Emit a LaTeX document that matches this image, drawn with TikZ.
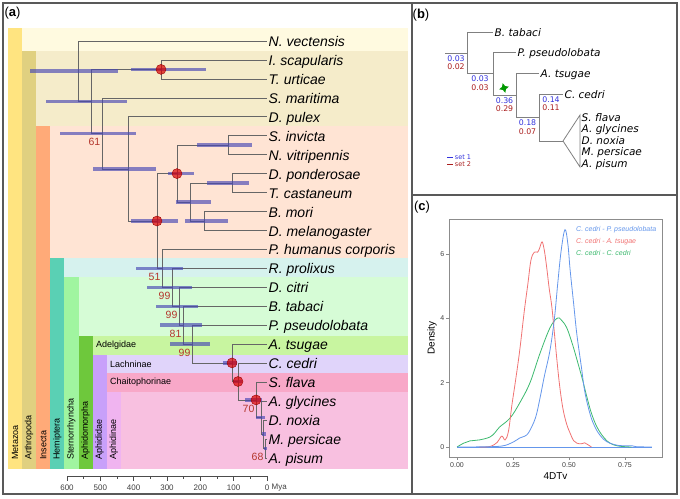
\documentclass[tikz,border=0pt]{standalone}
\usepackage{fontspec}
\setmainfont{Liberation Sans}
\newfontfamily\dejavu{DejaVu Sans}
\usetikzlibrary{shapes.geometric}

\definecolor{metaS}{RGB}{255,228,128}
\definecolor{metaB}{RGB}{255,250,224}
\definecolor{arthS}{RGB}{224,208,128}
\definecolor{arthB}{RGB}{245,236,202}
\definecolor{inseS}{RGB}{255,170,120}
\definecolor{inseB}{RGB}{255,228,212}
\definecolor{hemiS}{RGB}{90,208,180}
\definecolor{hemiB}{RGB}{214,242,238}
\definecolor{sterS}{RGB}{160,245,160}
\definecolor{sterB}{RGB}{214,252,214}
\definecolor{aphmS}{RGB}{110,200,60}
\definecolor{adelB}{RGB}{200,245,160}
\definecolor{aphdS}{RGB}{200,160,250}
\definecolor{lachB}{RGB}{224,212,250}
\definecolor{chaiB}{RGB}{248,168,200}
\definecolor{aphiS}{RGB}{240,180,240}
\definecolor{aphiB}{RGB}{248,192,224}
\definecolor{hpd}{RGB}{70,70,180}
\definecolor{support}{RGB}{180,55,45}
\definecolor{setone}{RGB}{50,50,220}
\definecolor{settwo}{RGB}{170,30,30}
\definecolor{cblue}{RGB}{100,150,235}
\definecolor{cred}{RGB}{240,115,115}
\definecolor{cgreen}{RGB}{60,185,110}

\begin{document}
\begin{tikzpicture}[x=1pt, y=-1pt,
    branch/.style={draw=black!60, line width=0.7pt},
    tip/.style={font=\fontsize{14}{16}\selectfont\itshape, anchor=west, inner sep=1.5pt, text height=11pt, text depth=0pt},
    hpdbar/.style={draw=hpd, opacity=0.65, line width=3.6pt},
    dated/.style={circle, fill=red!85!black, fill opacity=0.7, draw=red!60!black, minimum size=10pt, inner sep=0pt},
    supp/.style={text=support, font=\fontsize{10.5}{12}\selectfont, inner sep=0pt},
    clade/.style={font=\fontsize{9}{10}\selectfont, inner sep=0pt},
    frame/.style={draw=black!65, line width=1.2pt},
    panel/.style={font=\fontsize{13}{15}\selectfont, inner sep=0pt},
    bbranch/.style={draw=black!50, line width=0.8pt},
    btip/.style={font=\dejavu\fontsize{10.5}{12}\selectfont\itshape, anchor=west, inner sep=1.5pt, text height=8pt, text depth=0pt},
    bnum/.style={font=\dejavu\fontsize{7.8}{9}\selectfont, inner sep=0pt},
    tick/.style={font=\fontsize{8}{9}\selectfont, text=black!75, inner sep=0pt},
    curve/.style={line width=0.8pt, smooth, tension=0.6}]
  \useasboundingbox (0,0) rectangle (680,498);

  % (a) clade bands
  \foreach \xl/\yt/\sc/\bc/\lab in {8/28/metaS/metaB/Metazoa, 22.1/51/arthS/arthB/Arthropoda,
      36.2/126/inseS/inseB/Insecta, 50.3/258/hemiS/hemiB/Hemiptera, 64.4/277/sterS/sterB/Sternorrhyncha,
      78.5/336/aphmS/adelB/Aphidomorpha, 92.6/355/aphdS/lachB/Aphididae}{
    \fill[\bc] (\xl+14.1,\yt) rectangle (408,469);
    \fill[\sc] (\xl,\yt) rectangle (\xl+14.1,469);
    \node[clade, rotate=90, anchor=west] at (\xl+7,460) {\lab};
  }
  \fill[chaiB] (106.7,373) rectangle (408,469);
  \fill[aphiB] (120.8,392) rectangle (408,469);
  \fill[aphiS] (106.7,392) rectangle (120.8,469);
  \node[clade, rotate=90, anchor=west] at (113.7,460) {Aphidinae};
  \node[clade, anchor=west] at (96,345.5) {Adelgidae};
  \node[clade, anchor=west] at (110,364) {Lachninae};
  \node[clade, anchor=west] at (110,382.5) {Chaitophorinae};

  % (a) species
  \foreach \i/\nm/\lab in {0/nv/N. vectensis, 1/isc/I. scapularis, 2/tu/T. urticae, 3/sm/S. maritima,
      4/dp/D. pulex, 5/si/S. invicta, 6/nvi/N. vitripennis, 7/dpo/D. ponderosae, 8/tc/T. castaneum,
      9/bm/B. mori, 10/dm/D. melanogaster, 11/ph/P. humanus corporis, 12/rp/R. prolixus, 13/dc/D. citri,
      14/bt/B. tabaci, 15/pp/P. pseudolobata, 16/atsu/A. tsugae, 17/cc/C. cedri, 18/sf/S. flava,
      19/ag/A. glycines, 20/dn/D. noxia, 21/mp/M. persicae, 22/ap/A. pisum}
    \node[tip] (\nm) at (267,41+18.95*\i) {\lab};

  % (a) internal nodes
  \foreach \nm/\x/\y in {root/78/71.2, arth/91/101.4, chel/161/69.4, mand/102/133.4, panc/128/168.9,
      hexa/157/221, holo/177/173.6, hyme/228/145.2, rest/190/202.05, cole/232/183.1, lepd/204/221,
      para/162/268.4, hemi/172/287.35, ster/179/306.3, stb/183/325.2, stp/192/344.1, aphm/232/362.9,
      aphd/238/381.5, chai/256/399.9, aphi/261/417.6, dma/263/434.2, ma/265/448.4}
    \coordinate (\nm) at (\x,\y);

  \draw[branch] (root) |- (nv.west) (root) |- (arth) (arth) |- (chel) (arth) |- (mand)
    (chel) |- (isc.west) (chel) |- (tu.west) (mand) |- (sm.west) (mand) |- (panc)
    (panc) |- (dp.west) (panc) |- (hexa) (hexa) |- (holo) (hexa) |- (para)
    (holo) |- (hyme) (holo) |- (rest) (hyme) |- (si.west) (hyme) |- (nvi.west)
    (rest) |- (cole) (rest) |- (lepd) (cole) |- (dpo.west) (cole) |- (tc.west)
    (lepd) |- (bm.west) (lepd) |- (dm.west) (para) |- (ph.west) (para) |- (hemi)
    (hemi) |- (rp.west) (hemi) |- (ster) (ster) |- (dc.west) (ster) |- (stb)
    (stb) |- (bt.west) (stb) |- (stp) (stp) |- (pp.west) (stp) |- (aphm)
    (aphm) |- (atsu.west) (aphm) |- (aphd) (aphd) |- (cc.west) (aphd) |- (chai)
    (chai) |- (sf.west) (chai) |- (aphi) (aphi) |- (ag.west) (aphi) |- (dma)
    (dma) |- (dn.west) (dma) |- (ma) (ma) |- (mp.west) (ma) |- (ap.west);

  % (a) 95% HPD bars
  \foreach \y/\a/\b in {71.2/30/118, 101.4/46/127, 69.4/131/206, 133.4/60/136, 168.9/93/156,
      221/131/178, 173.6/168/194, 145.2/197/252, 202.05/176/211, 183.1/207/249, 221/185/228,
      268.4/136/183, 287.35/147/192, 306.3/156/198, 325.2/160/202, 344.1/170/210, 362.9/223/237,
      381.5/233/242, 399.9/245/262, 417.6/256/265, 434.2/262/266, 448.4/264/267}
    \draw[hpdbar] (\a,\y) -- (\b,\y);

  % (a) calibrations and support
  \foreach \nm in {chel,holo,hexa,aphm,aphd,chai}
    \node[dated] at (\nm) {};
  \foreach \nm/\v in {mand/61, para/51, hemi/99, ster/99, stb/81, stp/99, chai/70, ma/68}
    \node[supp, xshift=-7.5pt, yshift=-8.5pt] at (\nm) {\v};

  % (a) time axis
  \draw[black!70, line width=0.6pt] (67,476) -- (267,476);
  \foreach \t in {0,100,...,600}
    \draw[black!70, line width=0.6pt] (267-\t/3,476) -- ++(0,5);
  \foreach \t in {50,150,...,550}
    \draw[black!70, line width=0.6pt] (267-\t/3,476) -- ++(0,3);
  \foreach \t in {100,200,...,600}
    \node[tick] at (267-\t/3,488) {\t};
  \node[tick] (zero) at (267,488) {0};
  \node[tick, anchor=west] at ([xshift=2pt]zero.east) {Mya};

  % (b) reduced tree
  \coordinate (bstub) at (445,53);
  \coordinate (b0) at (467,53);
  \coordinate (b1) at (493,73.5);
  \coordinate (b2) at (516,95);
  \coordinate (b3) at (539,117.5);
  \coordinate (b4) at (563,141);
  \coordinate (ctop) at (580,115);
  \coordinate (cbot) at (580,167);
  \node[btip] (btab) at (493,32) {B. tabaci};
  \node[btip] (bpse) at (516,52) {P. pseudolobata};
  \node[btip] (btsu) at (539,73) {A. tsugae};
  \node[btip] (bced) at (563,94) {C. cedri};
  \foreach \i/\lab in {0/S. flava, 1/A. glycines, 2/D. noxia, 3/M. persicae, 4/A. pisum}
    \node[btip, inner sep=0.5pt] (bap\i) at (581,117+11.5*\i) {\lab};
  \draw[bbranch] (bstub) -- (b0) (b0) |- (btab.west) (b0) |- (b1) (b1) |- (bpse.west) (b1) |- (b2)
    (b2) |- (btsu.west) (b2) |- (b3) (b3) |- (bced.west) (b3) |- (b4);
  \draw[bbranch] (b4) -- (ctop) -- (cbot) -- cycle;

  % (b) branch values, set 1 over set 2
  \foreach \x/\y/\u/\w in {456/53/0.03/0.02, 480/73.5/0.03/0.03, 504.5/95/0.36/0.29,
      527.5/117.5/0.18/0.07, 551/94/0.14/0.11}{
    \node[bnum, text=setone] at (\x,\y+5.5) {\u};
    \node[bnum, text=settwo] at (\x,\y+14) {\w};
  }
  \node[star, star points=4, star point ratio=2.2, minimum size=10pt, inner sep=0pt,
    fill=green!60!black, rotate=15] (shift) at (504,88) {};
  \coordinate (sone) at (447,157);
  \coordinate (stwo) at (447,164);
  \draw[setone, line width=0.8pt] (sone) -- ++(6,0) node[bnum, anchor=west, xshift=1.5pt, font=\dejavu\fontsize{6.5}{7}\selectfont] {set 1};
  \draw[settwo, line width=0.8pt] (stwo) -- ++(6,0) node[bnum, anchor=west, xshift=1.5pt, font=\dejavu\fontsize{6.5}{7}\selectfont] {set 2};

  % (c) 4DTv density
  \draw[black!45, line width=0.7pt] (449,219) rectangle (662,457);
  \foreach \d in {0,2,4,6}{
    \draw[black!45, line width=0.6pt] (446,447-32.2*\d) -- (449,447-32.2*\d);
    \node[tick, font=\fontsize{7}{8}\selectfont, anchor=east] at (444.5,447-32.2*\d) {\d};
  }
  \foreach \v/\l in {0/0.00, 0.25/0.25, 0.5/0.50, 0.75/0.75}{
    \draw[black!45, line width=0.6pt] (457+224*\v,457) -- ++(0,3);
    \node[tick, font=\fontsize{7}{8}\selectfont] at (457+224*\v,465) {\l};
  }
  \node[font=\fontsize{10}{11}\selectfont, rotate=90] (dens) at (432,338) {Density};
  \node[font=\fontsize{10}{11}\selectfont] (dtv) at (555.5,476.5) {4DTv};
  \begin{scope}[shift={(457,447)}, x=224pt, y=32.2pt]
    \draw[cblue, line width=0.8pt] (0,0) -- (0.87,0);
    \draw[cgreen, curve] plot coordinates {(0,0) (0.03,0.12) (0.058,0.19) (0.1,0.22) (0.147,0.31)
      (0.17,0.45) (0.19,0.62) (0.237,0.9) (0.28,1.37) (0.326,2.0) (0.37,2.9) (0.415,3.7) (0.447,4.0)
      (0.465,3.95) (0.49,3.7) (0.515,3.2) (0.536,2.7) (0.56,2.1) (0.58,1.55) (0.6,1.05) (0.625,0.62)
      (0.655,0.3) (0.683,0.12) (0.72,0.03) (0.78,0)};
    \draw[cred, curve] plot coordinates {(0.1,0) (0.15,0.02) (0.18,0.15) (0.2,0.34) (0.215,0.22)
      (0.23,0.5) (0.245,1.3) (0.26,2.0) (0.28,3.0) (0.30,4.2) (0.317,5.1) (0.33,5.8) (0.345,6.05)
      (0.36,6.05) (0.37,6.2) (0.38,6.37) (0.39,6.1) (0.40,5.6) (0.412,4.9) (0.425,4.25) (0.446,2.7)
      (0.46,1.8) (0.474,1.15) (0.49,0.7) (0.505,0.43) (0.52,0.2) (0.535,0.12) (0.555,0.1) (0.57,0.13)
      (0.585,0.07) (0.6,0)};
    \draw[cblue, curve] plot coordinates {(0,0) (0.1,0.005) (0.2,0.03) (0.25,0.15) (0.28,0.28)
      (0.30,0.33) (0.32,0.45) (0.35,0.9) (0.37,1.5) (0.39,2.2) (0.415,3.0) (0.435,4.0) (0.45,5.1)
      (0.465,6.1) (0.482,6.75) (0.495,6.3) (0.505,5.5) (0.52,4.5) (0.535,3.5) (0.555,2.5) (0.571,1.7)
      (0.595,1.0) (0.616,0.62) (0.64,0.35) (0.67,0.16) (0.72,0.05) (0.78,0.04) (0.8,0.01) (0.87,0)};
  \end{scope}
  \node[anchor=west, text=cblue, font=\fontsize{7}{8}\selectfont\itshape, inner sep=0pt] (lpp) at (576,230) {C. cedri - P. pseudolobata};
  \node[anchor=west, text=cred, font=\fontsize{7}{8}\selectfont\itshape, inner sep=0pt] (lat) at (576,242) {C. cedri - A. tsugae};
  \node[anchor=west, text=cgreen, font=\fontsize{7}{8}\selectfont\itshape, inner sep=0pt] (lcc) at (576,253) {C. cedri - C. cedri};

  % frames and panel letters
  \draw[frame] (3,3) rectangle (677,494);
  \draw[frame] (412,3) -- (412,494);
  \draw[frame] (412,195) -- (677,195);
  \node[panel] (pa) at (12.5,13) {(\textbf{a})};
  \node[panel] (pb) at (421,15) {(\textbf{b})};
  \node[panel] (pc) at (422,207.5) {(\textbf{c})};
\end{tikzpicture}
\end{document}
